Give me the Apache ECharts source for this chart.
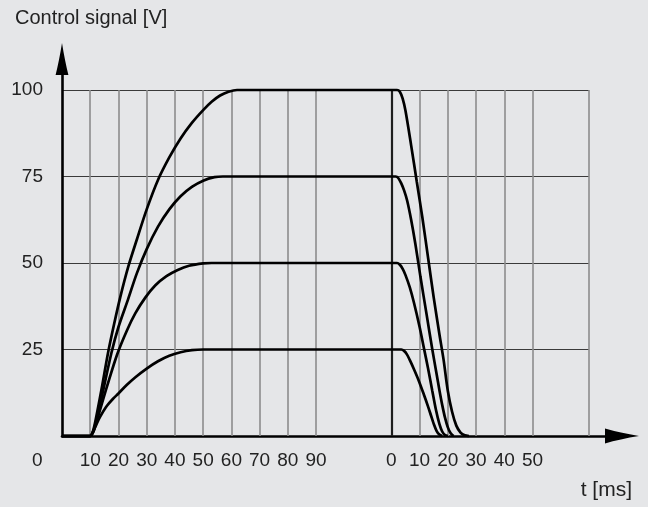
<!DOCTYPE html>
<html>
<head>
<meta charset="utf-8">
<script src="https://cdn.jsdelivr.net/npm/echarts@6/dist/echarts.min.js"></script>
<style>
html,body{margin:0;padding:0;background:#e5e6e8;}
#chart{width:648px;height:507px;}
</style>
</head>
<body>
<div id="chart"></div>
<script>
// ---- text ----
const titleText = 'Control signal [V]';
const xAxisName = 't [ms]';
const originLabel = '0';

// ---- ticks / grid ----
const riseTicks = [10, 20, 30, 40, 50, 60, 70, 80, 90];          // ms after switch-on
const fallTicks = [0, 10, 20, 30, 40, 50];                       // ms after switch-off
const riseGrid = [10, 20, 30, 40, 50, 60, 70, 80, 90];
const fallGrid = [10, 20, 30, 40, 50, 70];
const yTicks = [0, 25, 50, 75, 100];

// the second time base (switch-off) starts at this point of the first time base
const SWITCH_OFF = 116.67;
const FALL_END = 70;

// ---- curves: [t (ms after switch-on), V] ----
const rise100 = [[0,0],[9,0],[10,0],[11,1.5],[12,5],[14,13.5],[16.3,24],[18.5,32.5],[20.6,40],[23.5,49],[26.6,57],[30,65.5],[34,74],[38,80.5],[42,86],[46,90.5],[50,94.2],[53,96.6],[56,98.4],[59,99.5],[62,100]];
const rise75  = [[0,0],[9,0],[10,0],[11,1.2],[12,4],[14,11],[17.5,24],[20,31.5],[23.4,39.5],[26.5,47],[30,54],[34,60.5],[38,65.5],[42,69.3],[46,72],[50,73.8],[54,74.8],[57,75]];
const rise50  = [[0,0],[9,0],[10,0],[11,1],[12,3.5],[14,9],[16,14.5],[19.5,23.5],[23,30.5],[26,35.5],[29.5,40],[33,43.5],[37,46.2],[41,48],[45,49.2],[50,49.9],[53,50]];
const rise25  = [[0,0],[9,0],[10,0],[11,1.2],[12,3],[13,4.8],[14,6.3],[16,8.8],[18,10.7],[20,12.3],[23,14.8],[26,17],[30,19.5],[34,21.6],[38,23.2],[42,24.2],[46,24.8],[50,25]];

// ---- curves: [t (ms after switch-off), V] ----
const fall100 = [[0,100],[2,100],[3,99.5],[4,97.5],[5,94],[7,84],[9,73.5],[11,63],[13,51.5],[15,40],[17,29.5],[18.5,22],[20,13],[21.5,7],[23,3],[24.5,1],[26,0.2],[27.5,0]];
const fall75  = [[0,75],[1.5,75],[2.5,74.5],[3.5,73],[4.5,71],[5.6,68],[7,62.5],[8.5,55.5],[10.3,46],[12.5,35],[14.5,25],[16,18],[17,13.3],[18,9],[19,5.3],[20,2.5],[21,0.8],[22,0]];
const fall50  = [[0,50],[2,50],[3,49.5],[4,48.3],[5,46.5],[6.5,43],[8,38.5],[10,31.5],[11.5,25.5],[13,19.5],[14.5,13],[15.8,7.5],[17,3.5],[18,1.3],[19,0.3],[20,0]];
const fall25  = [[0,25],[3.5,25],[4.5,24.6],[5.5,23.6],[6.5,22],[8,19.3],[9.7,16],[11.5,12],[13,8.5],[14,6],[15,3.5],[16,1.5],[17,0.4],[18,0]];

const curves = [[rise100, fall100], [rise75, fall75], [rise50, fall50], [rise25, fall25]];

const FONT = "'Liberation Sans', Arial, sans-serif";
const NARROW = "'Liberation Sans Narrow', 'Arial Narrow', 'Liberation Sans', sans-serif";

const labelMap = {};
riseTicks.forEach(v => { labelMap[v.toFixed(2)] = String(v); });
fallTicks.forEach(v => { labelMap[(SWITCH_OFF + v).toFixed(2)] = String(v); });
const labelValues = riseTicks.concat(fallTicks.map(v => SWITCH_OFF + v));

const gridLines = riseGrid.map(v => ({ xAxis: v }))
  .concat([{ xAxis: SWITCH_OFF, lineStyle: { color: '#1e1e1e', width: 2.2, type: 'solid' } }])
  .concat(fallGrid.map(v => ({ xAxis: SWITCH_OFF + v })));

// arrow heads: path boxes proportioned like the symbol sizes
const arrowY = 'path://M20,0 Q29,56 40,100 L0,100 Q11,56 20,0 Z';
const arrowX = 'path://M22,0 Q31,56 44,100 L0,100 Q13,56 22,0 Z';

const chart = echarts.init(document.getElementById('chart'), null, { renderer: 'canvas' });

const series = [{
  type: 'line', xAxisIndex: 0, yAxisIndex: 0, data: [], z: 1, silent: true,
  markLine: {
    silent: true, symbol: ['none', 'none'], label: { show: false },
    lineStyle: { color: '#8c8c8c', width: 1.6, type: 'solid' },
    emphasis: { disabled: true },
    data: gridLines
  }
}];
curves.forEach(([rise, fall]) => {
  series.push({
    type: 'line', xAxisIndex: 0, yAxisIndex: 0, z: 10, clip: false,
    showSymbol: false, smooth: 0.3,
    lineStyle: { color: '#000', width: 2.7 },
    data: rise.concat(fall.map(([t, v]) => [SWITCH_OFF + t, v]))
  });
});

chart.setOption({
  backgroundColor: '#e5e6e8',
  animation: false,
  title: {
    text: titleText, left: 15, top: 8, padding: 0,
    textStyle: { fontSize: 20, fontWeight: 'normal', color: '#222', fontFamily: FONT }
  },
  grid: [
    { left: 62, right: 59, top: 90, bottom: 71 },
    { left: 62, right: 26, top: 59, bottom: 71 }
  ],
  xAxis: [{
    gridIndex: 0, type: 'value', min: 0, max: SWITCH_OFF + FALL_END,
    axisLine: { show: false }, axisTick: { show: false }, splitLine: { show: false },
    axisLabel: {
      customValues: labelValues,
      margin: 15, fontSize: 19, color: '#222', fontFamily: NARROW,
      formatter: v => labelMap[Number(v).toFixed(2)] || ''
    }
  }, {
    gridIndex: 1, type: 'value', min: 0, max: 1,
    axisLine: { show: true, symbol: ['none', arrowX], symbolSize: [15, 34],
      lineStyle: { color: '#000', width: 2.6 } },
    axisTick: { show: false }, axisLabel: { show: false }, splitLine: { show: false }
  }],
  yAxis: [{
    gridIndex: 0, type: 'value', min: 0, max: 100, interval: 25,
    axisLine: { show: false }, axisTick: { show: false },
    splitLine: { show: true, lineStyle: { color: '#3a3a3a', width: 1.2 } },
    axisLabel: {
      margin: 19, fontSize: 19, color: '#222', fontFamily: FONT,
      formatter: v => (v === yTicks[0] ? '' : String(v))
    }
  }, {
    gridIndex: 1, type: 'value', min: 0, max: 1,
    axisLine: { show: true, symbol: ['none', arrowY], symbolSize: [13, 32],
      lineStyle: { color: '#000', width: 2.6 } },
    axisTick: { show: false }, axisLabel: { show: false }, splitLine: { show: false }
  }],
  graphic: [
    { type: 'text', left: 32, top: 451, z: 20,
      style: { text: originLabel, fontSize: 19, fill: '#222', fontFamily: NARROW } },
    { type: 'text', right: 16, top: 480, z: 20,
      style: { text: xAxisName, fontSize: 21, fill: '#222', fontFamily: FONT } }
  ],
  series: series
});
</script>
</body>
</html>
